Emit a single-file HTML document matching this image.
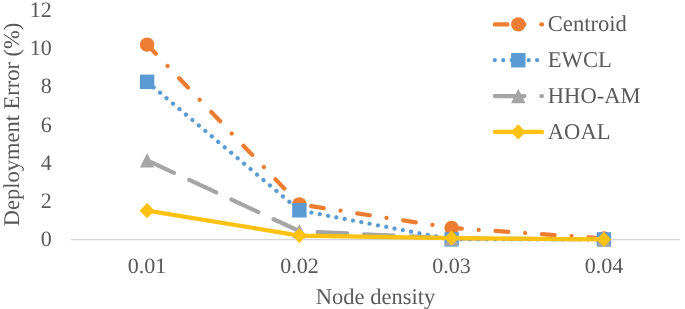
<!DOCTYPE html>
<html><head><meta charset="utf-8"><style>
html,body{margin:0;padding:0;background:#fff;}
body{width:685px;height:309px;overflow:hidden;}
svg{display:block;font-family:"Liberation Serif", serif;will-change:transform;text-rendering:geometricPrecision;}
</style></head><body>
<svg width="685" height="309" viewBox="0 0 685 309">
<line x1="71.0" y1="239.55" x2="680.0" y2="239.55" stroke="#D4D4D4" stroke-width="1.2"/>
<text x="51.7" y="246.40" text-anchor="end" font-size="22" fill="#595959">0</text>
<text x="51.7" y="208.16" text-anchor="end" font-size="22" fill="#595959">2</text>
<text x="51.7" y="169.92" text-anchor="end" font-size="22" fill="#595959">4</text>
<text x="51.7" y="131.68" text-anchor="end" font-size="22" fill="#595959">6</text>
<text x="51.7" y="93.43" text-anchor="end" font-size="22" fill="#595959">8</text>
<text x="51.7" y="55.19" text-anchor="end" font-size="22" fill="#595959">10</text>
<text x="51.7" y="16.95" text-anchor="end" font-size="22" fill="#595959">12</text>
<text x="147.12" y="273" text-anchor="middle" font-size="22" fill="#595959">0.01</text>
<text x="299.38" y="273" text-anchor="middle" font-size="22" fill="#595959">0.02</text>
<text x="451.62" y="273" text-anchor="middle" font-size="22" fill="#595959">0.03</text>
<text x="603.88" y="273" text-anchor="middle" font-size="22" fill="#595959">0.04</text>
<text x="375.50" y="304" text-anchor="middle" font-size="22.5" fill="#595959">Node density</text>
<text transform="translate(19.4 124.50) rotate(-90)" text-anchor="middle" font-size="22.5" fill="#595959">Deployment Error (%)</text>
<polyline points="147.12,44.64 299.38,204.36 451.62,227.91 603.88,238.44" fill="none" stroke="#ED7D31" stroke-width="4.23" stroke-linecap="round" stroke-linejoin="round" stroke-dasharray="12.69 16.92 0.01 16.91"/>
<circle cx="147.12" cy="44.64" r="7.20" fill="#ED7D31"/>
<circle cx="299.38" cy="204.36" r="7.20" fill="#ED7D31"/>
<circle cx="451.62" cy="227.91" r="7.20" fill="#ED7D31"/>
<circle cx="603.88" cy="238.44" r="7.20" fill="#ED7D31"/>
<polyline points="147.12,81.80 299.38,210.29 451.62,239.40 603.88,239.40" fill="none" stroke="#5B9BD5" stroke-width="4.23" stroke-linecap="round" stroke-linejoin="round" stroke-dasharray="0.01 8.45"/>
<rect x="139.93" y="74.60" width="14.40" height="14.40" fill="#5B9BD5"/>
<rect x="292.18" y="203.09" width="14.40" height="14.40" fill="#5B9BD5"/>
<rect x="444.43" y="232.20" width="14.40" height="14.40" fill="#5B9BD5"/>
<rect x="596.67" y="232.20" width="14.40" height="14.40" fill="#5B9BD5"/>
<polyline points="147.12,160.31 299.38,231.17 451.62,238.44 603.88,239.40" fill="none" stroke="#A5A5A5" stroke-width="4.23" stroke-linecap="round" stroke-linejoin="round" stroke-dasharray="29.61 16.92"/>
<polygon points="147.12,153.11 154.32,167.51 139.93,167.51" fill="#A5A5A5"/>
<polygon points="299.38,223.97 306.57,238.37 292.18,238.37" fill="#A5A5A5"/>
<polygon points="451.62,231.24 458.82,245.64 444.43,245.64" fill="#A5A5A5"/>
<polygon points="603.88,232.20 611.08,246.60 596.67,246.60" fill="#A5A5A5"/>
<polyline points="147.12,210.68 299.38,235.57 451.62,238.06 603.88,239.40" fill="none" stroke="#FDC112" stroke-width="4.23" stroke-linecap="round" stroke-linejoin="round" />
<polygon points="147.12,203.12 154.68,210.68 147.12,218.23 139.57,210.68" fill="#FDC112"/>
<polygon points="299.38,228.02 306.93,235.57 299.38,243.12 291.82,235.57" fill="#FDC112"/>
<polygon points="451.62,230.51 459.18,238.06 451.62,245.61 444.07,238.06" fill="#FDC112"/>
<polygon points="603.88,231.85 611.42,239.40 603.88,246.95 596.33,239.40" fill="#FDC112"/>
<line x1="494.8" y1="24.40" x2="542.0" y2="24.40" stroke="#ED7D31" stroke-width="4.23" stroke-linecap="round" stroke-dasharray="12.69 16.92 0.01 16.91"/>
<circle cx="518.30" cy="24.40" r="7.20" fill="#ED7D31"/>
<text x="547.8" y="31.20" font-size="22.6" fill="#595959">Centroid</text>
<line x1="494.8" y1="60.23" x2="542.0" y2="60.23" stroke="#5B9BD5" stroke-width="4.23" stroke-linecap="round" stroke-dasharray="0.01 8.45"/>
<rect x="511.10" y="53.03" width="14.40" height="14.40" fill="#5B9BD5"/>
<text x="547.8" y="67.03" font-size="22.6" fill="#595959">EWCL</text>
<line x1="494.8" y1="96.06" x2="542.0" y2="96.06" stroke="#A5A5A5" stroke-width="4.23" stroke-linecap="round" stroke-dasharray="29.61 16.92"/>
<polygon points="518.30,88.86 525.50,103.26 511.10,103.26" fill="#A5A5A5"/>
<text x="547.8" y="102.86" font-size="22.6" fill="#595959">HHO-AM</text>
<line x1="494.8" y1="131.89" x2="542.0" y2="131.89" stroke="#FDC112" stroke-width="4.23" stroke-linecap="round" />
<polygon points="518.30,124.34 525.85,131.89 518.30,139.44 510.75,131.89" fill="#FDC112"/>
<text x="547.8" y="138.69" font-size="22.6" fill="#595959">AOAL</text>
</svg>
</body></html>
